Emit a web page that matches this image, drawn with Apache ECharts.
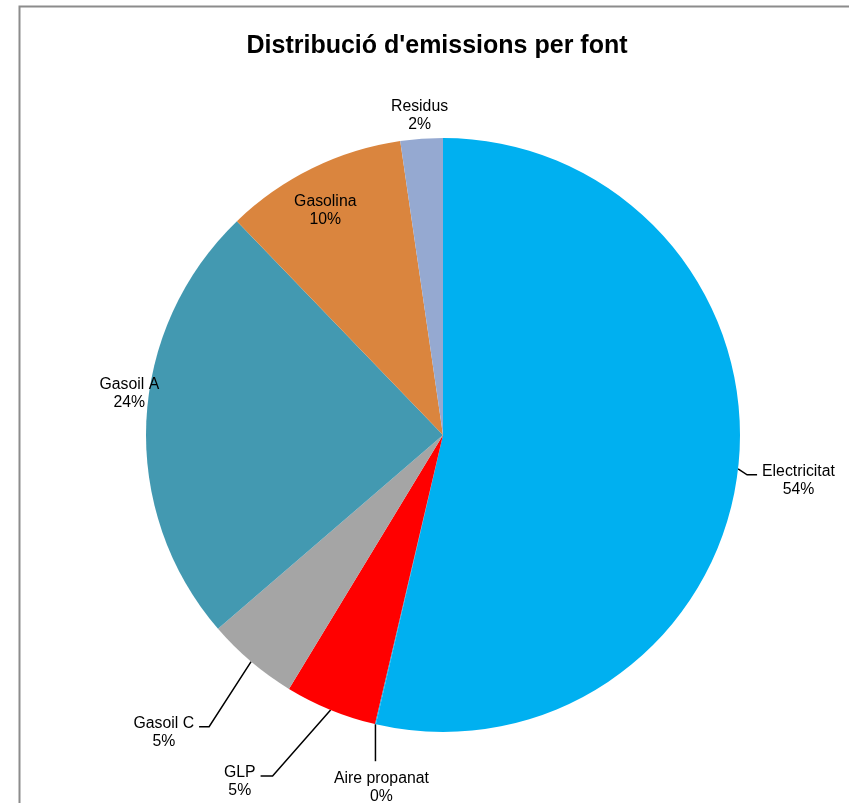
<!DOCTYPE html>
<html>
<head>
<meta charset="utf-8">
<script src="https://cdn.jsdelivr.net/npm/echarts@6/dist/echarts.min.js"></script>
<style>
html, body { margin: 0; padding: 0; background: #fff; }
#chart { width: 849px; height: 803px; }
</style>
</head>
<body>
<div id="chart"></div>
<script>
// fonts d'emissió i pes (%)
var fonts = ['Electricitat', 'Aire propanat', 'GLP', 'Gasoil C', 'Gasoil A', 'Gasolina', 'Residus'];
var shares = [53.6, 0.05, 5.0, 5.0, 24.1, 9.9, 2.3];
var colors = ['#00B0F0', '#00B0F0', '#FF0000', '#A5A5A5', '#4399B1', '#DA853E', '#95A9D1'];

var cx = 443, cy = 435, R = 297;

// how each label sits: leader line (two segments) or free offset from slice edge
var place = [
    {line: [[9, 6], [10, 0]], side: 'right'},
    {line: [[0, 37], [0, 0]], side: 'below'},
    {line: [[-58, 66], [-12, 0]], side: 'left'},
    {line: [[-42, 65], [-10, 0]], side: 'left'},
    {free: [-17, -28]},
    {free: [13, 42]},
    {free: [-2, -23]}
];

var total = shares.reduce(function (a, b) { return a + b; }, 0);
var mids = [];
var acc = 0;
shares.forEach(function (v) {
    mids.push((acc + v / 2) / total * 2 * Math.PI);
    acc += v;
});

function edge(i) {
    var a = mids[i];
    return [cx + R * Math.sin(a), cy - R * Math.cos(a)];
}

var myChart = echarts.init(document.getElementById('chart'));

var option = {
    animation: false,
    backgroundColor: '#fff',
    graphic: [
        {
            type: 'polyline',
            shape: {points: [[19.5, 830], [19.5, 6.5], [860, 6.5]]},
            style: {fill: 'none', stroke: '#8C8C8C', lineWidth: 2},
            silent: true
        },
        {
            type: 'text',
            x: 437,
            y: 46,
            style: {
                text: "Distribució d'emissions per font",
                align: 'center',
                verticalAlign: 'middle',
                font: 'bold 25px "Liberation Sans", Arial, sans-serif',
                fill: '#000'
            },
            silent: true
        }
    ],
    series: [{
        type: 'pie',
        center: [cx, cy],
        radius: R,
        startAngle: 90,
        clockwise: true,
        avoidLabelOverlap: false,
        itemStyle: {borderWidth: 0},
        label: {
            show: true,
            position: 'outside',
            color: '#000',
            fontFamily: 'Liberation Sans, Arial, sans-serif',
            fontSize: 15.8,
            lineHeight: 18,
            align: 'center',
            formatter: function (p) {
                return p.name + '\n' + Math.round(p.percent) + '%';
            }
        },
        labelLine: {
            show: true,
            lineStyle: {color: '#000', width: 1.5}
        },
        labelLayout: function (p) {
            var i = p.dataIndex;
            var s = place[i];
            var e = edge(i);
            var w = p.labelRect.width;
            if (s.free) {
                return {
                    x: e[0] + s.free[0],
                    y: e[1] + s.free[1],
                    align: 'center',
                    verticalAlign: 'middle'
                };
            }
            var p1 = [e[0] + s.line[0][0], e[1] + s.line[0][1]];
            var p2 = [p1[0] + s.line[1][0], p1[1] + s.line[1][1]];
            var x, y;
            if (s.side === 'right') {
                x = p2[0] + 5 + w / 2;
                y = p2[1] - 12;
            } else if (s.side === 'left') {
                x = p2[0] - 5 - w / 2;
                y = p2[1] - 12;
            } else {
                x = p2[0] + 6;
                y = p2[1] + 8;
            }
            return {
                x: x,
                y: y,
                align: 'center',
                verticalAlign: 'top',
                labelLinePoints: [e, p1, p2]
            };
        },
        data: fonts.map(function (name, i) {
            var item = {name: name, value: shares[i], itemStyle: {color: colors[i]}};
            if (place[i].free) {
                item.labelLine = {show: false};
            }
            return item;
        })
    }]
};

myChart.setOption(option);
</script>
</body>
</html>
